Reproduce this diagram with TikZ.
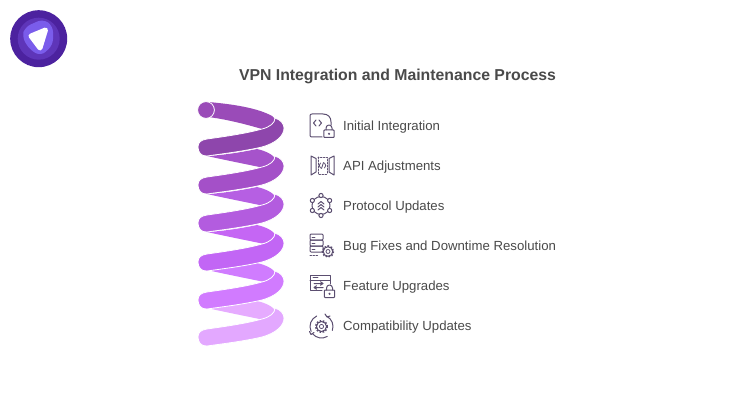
\documentclass[tikz,border=0pt]{standalone}
\usepackage{fontspec}
\setmainfont{Liberation Sans}
\usetikzlibrary{calc}
\definecolor{ink}{HTML}{4A4A4A}
\definecolor{icon}{HTML}{5B4E70}
\definecolor{logoa}{HTML}{4C229F}
\definecolor{logob}{HTML}{5E35B9}
\definecolor{logoc}{HTML}{7A5CEB}
\definecolor{bk1}{HTML}{9A4BB8}
\definecolor{bk2}{HTML}{A653CB}
\definecolor{bk3}{HTML}{B65FE3}
\definecolor{bk4}{HTML}{C566F4}
\definecolor{bk5}{HTML}{D07CFF}
\definecolor{bk6}{HTML}{E6ABFF}
\definecolor{fr1}{HTML}{8E46AC}
\definecolor{fr2}{HTML}{A450C8}
\definecolor{fr3}{HTML}{B35CDF}
\definecolor{fr4}{HTML}{C266F5}
\definecolor{fr5}{HTML}{D17BFF}
\definecolor{fr6}{HTML}{E3A8FF}
\tikzset{
  itemtext/.style={anchor=west,inner sep=0pt,text=ink,font=\fontsize{13.2}{16}\selectfont},
  heading/.style={anchor=center,inner sep=0pt,text=ink,font=\fontsize{15.8}{19}\selectfont\bfseries},
  ic/.style={draw=icon,line width=1pt,line join=round,line cap=round,fill=none},
  frontband/.style={draw=white,line width=0.8pt,line join=round},
}
% back wedge: colour, y offset
\newcommand{\backwedge}[2]{%
  \fill[#1,shift={(0,#2)}] (207,156) .. controls (225,155) and (243,152) .. (257,149)
    .. controls (266,151) and (274,155) .. (276,160) .. controls (275,165) and (268,167) .. (262,167.5)
    .. controls (245,164) and (225,160) .. cycle;}
% front band: colour, y offset
\newcommand{\frontstrip}[2]{%
  \path[frontband,fill=#1,shift={(0,#2)}] (207,139) .. controls (225,136.5) and (246,133.5) .. (262,129)
    .. controls (270,127) and (275,123) .. (275,118)
    .. controls (281,120) and (284,124) .. (284,128)
    .. controls (284,136) and (276,143) .. (262,147)
    .. controls (245,151) and (225,153.5) .. (207,156)
    .. controls (201,156.5) and (198,152) .. (198,147)
    .. controls (198,142) and (201,140) .. cycle;}
\newcommand{\gearicon}[3]{% x y r
  \draw[ic,fill=white] (#1,#2) circle (#3);
  \draw[icon,line width=1.6pt,dash pattern=on 1.6pt off 1.5pt] (#1,#2) circle ({#3+0.7});
  \draw[ic,line width=0.8pt] (#1,#2) circle ({#3*0.42});}
\newcommand{\lockicon}[2]{% x y centre
  \draw[ic,fill=white,rounded corners=0.8pt] ({#1-5.2},{#2-3}) rectangle ({#1+5.2},{#2+4.5});
  \draw[ic] ({#1-3},{#2-3}) -- ({#1-3},{#2-5}) arc (180:360:3) -- ({#1+3},{#2-3});
  \fill[icon] (#1,{#2+0.8}) circle (1.2);}
\begin{document}
\begin{tikzpicture}[x=1pt,y=-1pt]
\useasboundingbox (0,0) rectangle (740,420);
\fill[white] (0,0) rectangle (740,420);

% logo
\fill[logoa] (38.7,38.7) circle (28.5);
\fill[logob] (38.7,38.7) circle (21);
\fill[logoc,rounded corners=6pt] (25,27) -- (43,19) -- (53,26) -- (53,45) -- (41,56) -- (30,50) -- (22,37) -- cycle;
\draw[white,fill=white,line width=5pt,line join=round] (31,36) -- (45.5,30) -- (40,48) -- cycle;

% title
\node[heading] (title) at (397.5,76.5) {VPN Integration and Maintenance Process};

% coil
\backwedge{bk2}{0}
\backwedge{bk3}{38}
\backwedge{bk4}{76}
\backwedge{bk5}{114}
\backwedge{bk6}{152}
\fill[bk1] (208,102) .. controls (232,104) and (258,108) .. (272,116)
   .. controls (276,119) and (276,122) .. (274,124) .. controls (270,127) and (266,128) .. (262,129)
   .. controls (245,124) and (225,119) .. (208,117) -- cycle;
\frontstrip{fr1}{0}
\frontstrip{fr2}{38}
\frontstrip{fr3}{76}
\frontstrip{fr4}{115}
\frontstrip{fr5}{153}
\frontstrip{fr6}{190}
\fill[bk1,draw=white,line width=0.8pt] (206,110) circle (8.4);

% labels
\node[itemtext] (l1) at (343,127) {Initial Integration};
\node[itemtext] (l2) at (343,167) {API Adjustments};
\node[itemtext] (l3) at (343,207) {Protocol Updates};
\node[itemtext] (l4) at (343,247) {Bug Fixes and Downtime Resolution};
\node[itemtext] (l5) at (343,287) {Feature Upgrades};
\node[itemtext] (l6) at (343,327) {Compatibility Updates};

% icon 1: document with code and lock
\draw[ic] (322,137) -- (312,137) .. controls (310.5,137) and (310,136.5) .. (310,135) -- (310,116) .. controls (310,114.5) and (310.5,114) .. (312,114) -- (323,114) .. controls (328,114) and (331,117) .. (331,122) -- (331,125);
\draw[ic] (316,120) -- (313.5,123) -- (316,126) (319,120) -- (321.5,123) -- (319,126);
\lockicon{329}{133}

% icon 2: API doors
\draw[ic] (311,156) -- (316,158.5) -- (316,172) -- (311,175) -- cycle;
\draw[ic] (334,156) -- (329,158.5) -- (329,172) -- (334,175) -- cycle;
\draw[ic,dash pattern=on 1.5pt off 1.5pt] (318,157) rectangle (327,174);
\draw[ic,line width=0.8pt] (320.5,163) -- (319.2,165.5) -- (320.5,168) (324.5,163) -- (325.8,165.5) -- (324.5,168) (323.5,162.5) -- (321.5,168.5);

% icon 3: protocol ring
\draw[ic] (321,205.5) circle (9);
\foreach \a in {30,90,...,330}{
  \draw[ic,fill=white] ($(321,205.5)+(\a:10)$) circle (2.1);
}
\draw[ic] (318,204) -- (321,201.5) -- (324,204) (318,207) -- (321,204.5) -- (324,207) (318,210) -- (321,207.5) -- (324,210);

% icon 4: server + gear
\foreach \yy in {234,240,246}{
  \draw[ic,rounded corners=1pt] (310,\yy) rectangle (323,{\yy+6});
  \draw[ic,line width=0.8pt] (312,{\yy+3}) -- (315,{\yy+3});
}
\draw[ic,dash pattern=on 1.5pt off 1.5pt] (310,255.5) -- (318,255.5);
\gearicon{328}{251.5}{4.8}

% icon 5: window + lock
\draw[ic] (322,290.5) -- (310,290.5) -- (310,275) -- (330,275) -- (330,284);
\draw[ic] (310,280) -- (330,280);
\draw[ic,line width=0.8pt] (313,277.5) -- (318,277.5);
\draw[ic] (314,283.5) -- (323,283.5) (320.5,281.8) -- (323,283.5) -- (320.5,285.2);
\draw[ic] (323,287.5) -- (314,287.5) (316.5,285.8) -- (314,287.5) -- (316.5,289.2);
\lockicon{329.5}{293}

% icon 6: gear with arrows
\gearicon{321.5}{326.5}{5}
\draw[ic] (321.5,326.5) ++(-115:11.5) arc (-115:-205:11.5);
\draw[ic] (321.5,326.5) ++(-62:11.5) arc (-62:20:11.5);
\draw[ic] (321.5,326.5) ++(60:11.5) arc (60:140:11.5);
\draw[ic] (325,314) -- (327,317) -- (330,316);
\draw[ic] (309.5,331.5) -- (311,334.5) -- (314,332.5);
\end{tikzpicture}
\end{document}
